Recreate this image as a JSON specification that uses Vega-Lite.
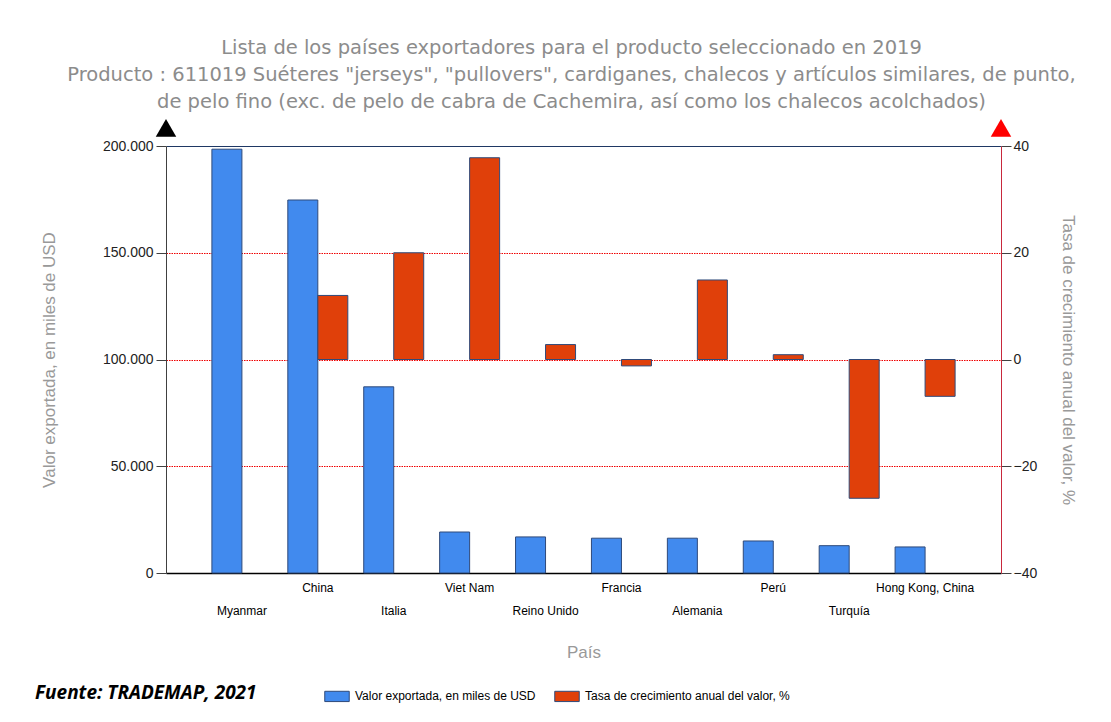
{
  "$schema": "https://vega.github.io/schema/vega-lite/v6.json",
  "width": 835,
  "height": 427,
  "autosize": "none",
  "padding": {"left": 166, "top": 146, "right": 110, "bottom": 149},
  "background": "white",
  "title": {
    "text": [
      "Lista de los países exportadores para el producto seleccionado en 2019",
      "Producto : 611019 Suéteres \"jerseys\", \"pullovers\", cardiganes, chalecos y artículos similares, de punto,",
      "de pelo fino (exc. de pelo de cabra de Cachemira, así como los chalecos acolchados)"
    ],
    "font": "DejaVu Sans",
    "fontSize": 19.5,
    "fontWeight": "normal",
    "color": "#8c8c8c",
    "lineHeight": 27,
    "anchor": "middle",
    "frame": "group",
    "dx": -12,
    "offset": 6
  },
  "data": {
    "values": [
      {"pais": "Myanmar", "valor": 198500, "tasa": null},
      {"pais": "China", "valor": 174700, "tasa": 12},
      {"pais": "Italia", "valor": 87200, "tasa": 20},
      {"pais": "Viet Nam", "valor": 19200, "tasa": 37.8},
      {"pais": "Reino Unido", "valor": 16900, "tasa": 2.8},
      {"pais": "Francia", "valor": 16300, "tasa": -1.2},
      {"pais": "Alemania", "valor": 16300, "tasa": 14.9},
      {"pais": "Perú", "valor": 15000, "tasa": 0.9},
      {"pais": "Turquía", "valor": 12800, "tasa": -26},
      {"pais": "Hong Kong, China", "valor": 12200, "tasa": -6.9}
    ]
  },
  "layer": [
    {
      "mark": {"type": "bar", "stroke": "#2F4A7A", "strokeWidth": 1},
      "encoding": {
        "x": {
          "field": "pais", "type": "nominal", "sort": null,
          "scale": {"domain": ["Myanmar", "China", "Italia", "Viet Nam", "Reino Unido", "Francia", "Alemania", "Perú", "Turquía", "Hong Kong, China"], "paddingInner": 0, "paddingOuter": 0.5},
          "axis": {
            "title": "País", "orient": "bottom", "labelAngle": 0, "ticks": false,
            "domainColor": "#000", "domainWidth": 1.5, "grid": false,
            "labelFont": "Liberation Sans",
            "labelFontSize": 12, "labelColor": "#000", "labelPadding": 9,
            "labelBaseline": "top", "labelLineHeight": 23, "labelLimit": 200,
            "labelExpr": "indexof(['Myanmar','Italia','Reino Unido','Alemania','Turquía'], datum.value) >= 0 ? ['', datum.label] : datum.label",
            "titleFont": "Liberation Sans", "titleFontSize": 17, "titleColor": "#999",
            "titleFontWeight": "normal", "titlePadding": 28
          }
        },
        "xOffset": {
          "datum": "Valor exportada, en miles de USD",
          "scale": {"domain": ["Valor exportada, en miles de USD", "Tasa de crecimiento anual del valor, %"], "paddingInner": 0, "paddingOuter": 0.265}
        },
        "y": {
          "field": "valor", "type": "quantitative",
          "scale": {"domain": [0, 200000], "nice": false},
          "axis": {
            "orient": "left", "values": [0, 50000, 100000, 150000, 200000],
            "labelExpr": "replace(format(datum.value, ','), ',', '.')",
            "grid": true,
            "gridColor": {"condition": {"test": "datum.value === 200000", "value": "#1F3864"}, "value": "#F00000"},
            "gridDash": {"condition": {"test": "datum.value === 200000", "value": []}, "value": [1.5, 1]},
            "gridOpacity": {"condition": {"test": "datum.value === 0", "value": 0}, "value": 1},
            "gridWidth": 1,
            "domainColor": "#404040", "tickColor": "#404040", "tickSize": 10,
            "labelFont": "Liberation Sans", "labelFontSize": 14, "labelColor": "#222", "labelPadding": 3,
            "title": "Valor exportada, en miles de USD", "titleColor": "#999",
            "titleFont": "Liberation Sans", "titleFontSize": 17, "titleFontWeight": "normal", "titlePadding": 44
          }
        },
        "color": {
          "datum": "Valor exportada, en miles de USD", "type": "nominal",
          "scale": {"domain": ["Valor exportada, en miles de USD", "Tasa de crecimiento anual del valor, %"], "range": ["#418AEE", "#E0400A"]},
          "legend": {"title": "Fuente: TRADEMAP, 2021"}
        }
      }
    },
    {
      "mark": {"type": "bar", "stroke": "#2F4A7A", "strokeWidth": 1},
      "encoding": {
        "x": {
          "field": "pais", "type": "nominal", "sort": null,
          "scale": {"domain": ["Myanmar", "China", "Italia", "Viet Nam", "Reino Unido", "Francia", "Alemania", "Perú", "Turquía", "Hong Kong, China"], "paddingInner": 0, "paddingOuter": 0.5},
          "axis": null
        },
        "xOffset": {
          "datum": "Tasa de crecimiento anual del valor, %",
          "scale": {"domain": ["Valor exportada, en miles de USD", "Tasa de crecimiento anual del valor, %"], "paddingInner": 0, "paddingOuter": 0.265}
        },
        "y": {
          "field": "tasa", "type": "quantitative",
          "scale": {"domain": [-40, 40], "nice": false, "zero": true},
          "axis": {
            "orient": "right", "values": [-40, -20, 0, 20, 40], "grid": false,
            "domainColor": "#C8283C", "tickColor": "#404040", "tickSize": 10,
            "labelFont": "Liberation Sans", "labelFontSize": 14, "labelColor": "#222", "labelPadding": 2,
            "title": "Tasa de crecimiento anual del valor, %", "titleColor": "#999",
            "titleFont": "Liberation Sans", "titleFontSize": 17, "titleFontWeight": "normal", "titlePadding": 22
          }
        },
        "color": {
          "datum": "Tasa de crecimiento anual del valor, %", "type": "nominal",
          "legend": {"title": "Fuente: TRADEMAP, 2021"}
        }
      }
    },
    {
      "data": {"values": [{}]},
      "mark": {"type": "point", "shape": "triangle-up", "filled": true, "size": 420, "color": "#000", "opacity": 1},
      "encoding": {
        "x": {"datum": 0, "type": "quantitative", "scale": {"domain": [0, 11], "nice": false, "zero": false}, "axis": null},
        "y": {"datum": 208500, "type": "quantitative", "scale": {"domain": [0, 200000], "nice": false}, "axis": null}
      }
    },
    {
      "data": {"values": [{}]},
      "mark": {"type": "point", "shape": "triangle-up", "filled": true, "size": 420, "color": "#FF0000", "opacity": 1},
      "encoding": {
        "x": {"datum": 11, "type": "quantitative", "scale": {"domain": [0, 11], "nice": false, "zero": false}, "axis": null},
        "y": {"datum": 208500, "type": "quantitative", "scale": {"domain": [0, 200000], "nice": false}, "axis": null}
      }
    }
  ],
  "resolve": {"scale": {"x": "independent", "y": "independent"}},
  "config": {
    "view": {"stroke": null},
    "legend": {
      "orient": "none", "legendX": -131, "legendY": 537, "direction": "horizontal",
      "titleOrient": "left", "titleFont": "Open Sans", "titleFontSize": 19,
      "titleFontWeight": "bold", "titleFontStyle": "italic", "titleColor": "#000",
      "titlePadding": 67, "titleBaseline": "middle", "titleLimit": 400,
      "symbolType": "M-1,-0.42H1V0.42H-1Z", "symbolSize": 600,
      "symbolStrokeColor": "#2F4A7A", "symbolStrokeWidth": 1, "symbolOpacity": 1,
      "labelFont": "Liberation Sans", "labelLimit": 400,
      "labelFontSize": 12, "labelColor": "#000", "columnPadding": 16, "labelOffset": 5
    }
  }
}
